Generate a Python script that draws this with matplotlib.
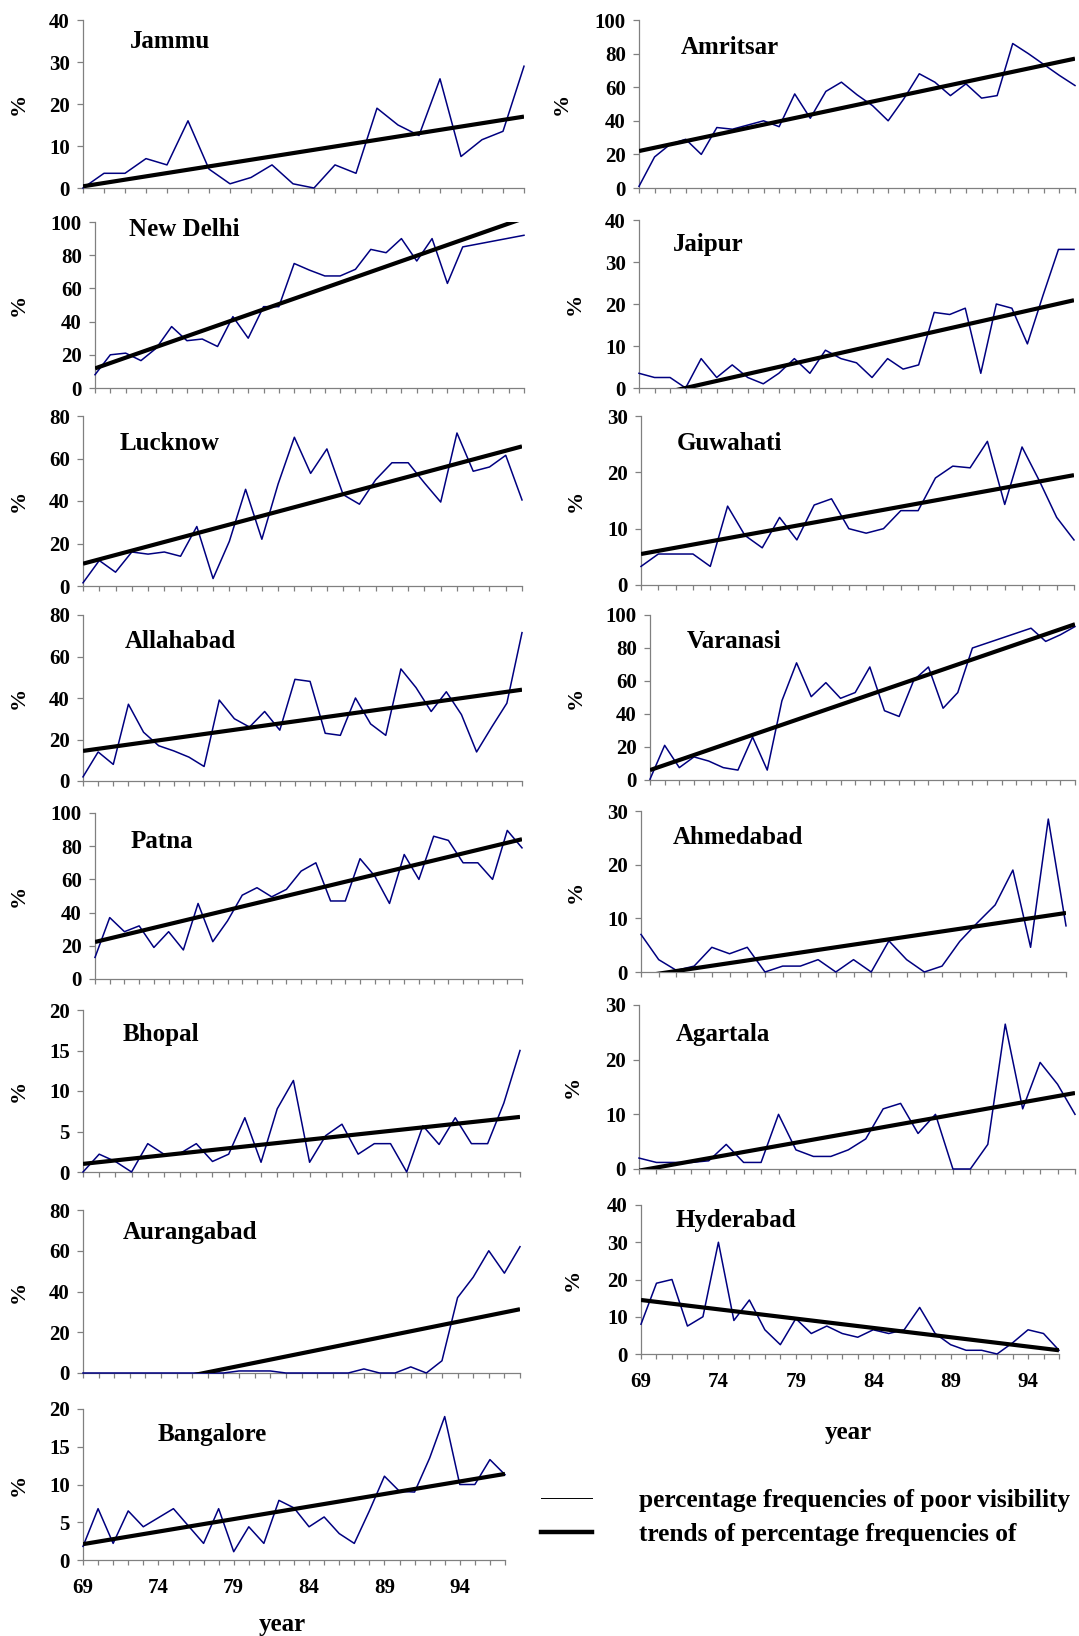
import numpy as np
import matplotlib
matplotlib.use('Agg')
import matplotlib.pyplot as plt
from matplotlib.lines import Line2D

plt.rcParams['font.family'] = ['Liberation Serif', 'DejaVu Serif']
plt.rcParams['font.weight'] = 'bold'

# ---- data (None = no value plotted) ----
jammu = [0, 3.5, 3.5, 7, 5.5, 16, 4.5, 1, 2.5, 5.5, 1, 0, 5.5, 3.5, 19, 15, 12.5, 26, 7.5, 11.5, 13.5, 29]
amritsar = [1, 18.5, 26, 29, 20, 36, 35, 37.5, 40, 36.5, 56, 41.5, 57.5, 63, 55.5, 49, 40, 53, 68, 63,
            55, 62, 53.5, 55, 86, 80, 73.5, 67, 61]
new_delhi = [8, 20, 21, 16.5, 24, 37, 28.5, 29.5, 25, 43, 30, 49, 49, 75, 71, 67.5, 67.5, 71.5, 83.5, 81.5,
             90, 76.5, 90, 63, 85, None, None, None, 92]
jaipur = [3.5, 2.5, 2.5, 0, 7, 2.5, 5.5, 2.5, 1, 3.5, 7, 3.5, 9, 7, 6, 2.5, 7, 4.5, 5.5, 18, 17.5, 19, 3.5,
          20, 19, 10.5, 22, 33, 33]
lucknow = [1.5, 12, 6.5, 16, 15, 16, 14, 28, 3.5, 21, 45.5, 22, 48, 70, 53, 64.5, 43, 38.5, 50, 58, 58,
           48.5, 39.5, 72, 54, 56, 61.5, 40.5]
guwahati = [3.3, 5.5, 5.5, 5.5, 3.3, 14, 8.8, 6.6, 12, 8, 14.2, 15.3, 10, 9.2, 10, 13.2, 13.2, 19, 21.1,
            20.8, 25.5, 14.3, 24.5, 18.5, 12, 8]
allahabad = [2, 14, 8, 37, 23.5, 17, 14.5, 11.5, 7, 39, 30, 26, 33.5, 24.5, 49, 48, 23, 22, 40, 27.5, 22,
             54, 45, 33.5, 43, 32, 14, 26, 37.5, 71.5]
varanasi = [0.5, 21, 7.5, 14, 11.5, 7.5, 6, 26, 6, 48, 71, 50.5, 59, 49.5, 53, 68.5, 42, 38.5, 60.5, 68.5,
            43.5, 53, 80, None, None, None, 92, 84, 88, 93]
patna = [13, 37, 28.5, 32, 19, 28.5, 17.5, 45.5, 22.5, 35, 50.5, 55, 49.5, 54, 65, 70, 47, 47, 72.5, 62,
         45.5, 75, 60, 86, 83.5, 70, 70, 60, 89.5, 79]
ahmedabad = [7, 2.3, 0.3, 1.1, 4.6, 3.4, 4.6, 0, 1.1, 1.1, 2.3, 0, 2.3, 0, 5.8, 2.3, 0, 1.1, 5.7, 9.2,
             12.5, 19, 4.6, 28.5, 8.6]
bhopal = [0, 2.2, 1.3, 0, 3.5, 2.2, 2.3, 3.5, 1.3, 2.2, 6.7, 1.2, 7.8, 11.3, 1.2, 4.5, 5.9, 2.2, 3.5, 3.5,
          0, 5.7, 3.4, 6.7, 3.5, 3.5, 8.5, 15]
agartala = [2, 1.2, 1.2, 1.2, 1.5, 4.5, 1.2, 1.2, 10, 3.5, 2.3, 2.3, 3.5, 5.5, 11, 12, 6.5, 10, 0, 0, 4.5,
            26.5, 11, 19.5, 15.5, 10]
aurangabad = [0, 0, 0, 0, 0, 0, 0, 0, 0, 0, 1, 1, 1, 0, 0, 0, 0, 0, 2, 0, 0, 3, 0, 6, 37, 47, 60, 49, 62]
hyderabad = [8, 19, 20, 7.5, 10, 30, 9, 14.5, 6.5, 2.5, 9.5, 5.5, 7.5, 5.5, 4.5, 6.5, 5.5, 6.5, 12.5, 5.5,
             2.5, 1, 1, 0, 3, 6.5, 5.5, 1]
bangalore = [1.8, 6.8, 2.2, 6.5, 4.4, 5.6, 6.8, 4.5, 2.2, 6.8, 1.1, 4.4, 2.2, 7.9, 6.9, 4.4, 5.7, 3.5, 2.2,
             6.5, 11.1, 9.1, 9, 13.5, 19, 10, 10, 13.3, 11.3]

# trend line values at first and last year of each series
trend_start = {'Jammu': 0.4, 'Amritsar': 22, 'New Delhi': 11.8, 'Jaipur': -2.5, 'Lucknow': 10.5,
               'Guwahati': 5.5, 'Allahabad': 14.5, 'Varanasi': 6, 'Patna': 22.3, 'Ahmedabad': -0.8,
               'Bhopal': 1.0, 'Agartala': -0.3, 'Aurangabad': -12, 'Hyderabad': 14.5, 'Bangalore': 2.1}
trend_end = {'Jammu': 17.0, 'Amritsar': 77, 'New Delhi': 102.3, 'Jaipur': 20.9, 'Lucknow': 65.7,
             'Guwahati': 19.5, 'Allahabad': 44, 'Varanasi': 94.4, 'Patna': 84.2, 'Ahmedabad': 11,
             'Bhopal': 6.8, 'Agartala': 13.9, 'Aurangabad': 31.3, 'Hyderabad': 1.0, 'Bangalore': 11.4}

year_labels = ['69', '74', '79', '84', '89', '94']

W, H = 1079, 1636

# panel: name, series, y max, y step, axes box in pixels (x0, x1, ytop, ybottom), title pos (x, y), ylabel x
panels = [
    ('Jammu', jammu, 40, 10, (83, 524, 20, 188), (130, 41), 19),
    ('New Delhi', new_delhi, 100, 20, (95, 524, 222, 388), (129, 229), 19),
    ('Lucknow', lucknow, 80, 20, (83, 522, 416, 586), (120, 443), 19),
    ('Allahabad', allahabad, 80, 20, (83, 522, 615, 781), (125, 642), 19),
    ('Patna', patna, 100, 20, (95, 522, 813, 979), (131, 841), 19),
    ('Bhopal', bhopal, 20, 5, (83, 520, 1010, 1172), (123, 1034), 19),
    ('Aurangabad', aurangabad, 80, 20, (83, 520, 1210, 1373), (123, 1233), 19),
    ('Bangalore', bangalore, 20, 5, (83, 505, 1409, 1560), (158, 1434), 19),
    ('Amritsar', amritsar, 100, 20, (639, 1075, 20, 188), (681, 48), 562),
    ('Jaipur', jaipur, 40, 10, (639, 1074, 220, 388), (673, 245), 575),
    ('Guwahati', guwahati, 30, 10, (641, 1074, 416, 585), (677, 443), 576),
    ('Varanasi', varanasi, 100, 20, (650, 1075, 615, 780), (687, 642), 576),
    ('Ahmedabad', ahmedabad, 30, 10, (641, 1066, 811, 972), (673, 837), 576),
    ('Agartala', agartala, 30, 10, (639, 1075, 1005, 1169), (676, 1034), 573),
    ('Hyderabad', hyderabad, 40, 10, (641, 1059, 1205, 1354), (676, 1220), 573),
]

fig = plt.figure(figsize=(W / 100, H / 100), dpi=100)

for name, vals, ymax, step, box, tpos, ylx in panels:
    x0, x1, yt, yb = box
    ax = fig.add_axes([x0 / W, 1 - yb / H, (x1 - x0) / W, (yb - yt) / H])
    n = len(vals)
    idx = np.array([i for i, v in enumerate(vals) if v is not None])
    yv = np.array([v for v in vals if v is not None], dtype=float)
    # data line
    ax.plot(idx, yv, color='#000080', lw=1.1, clip_on=False, zorder=3)
    # linear trend
    ax.plot([0, n - 1], [trend_start[name], trend_end[name]], color='black', lw=3.0,
            solid_capstyle='butt', zorder=4)
    ax.set_xlim(0, n - 1)
    ax.set_ylim(0, ymax)
    ax.set_yticks(np.arange(0, ymax + step / 2, step))
    ax.set_xticks(np.arange(n))
    if name in ('Bangalore', 'Hyderabad'):
        lab = [''] * n
        for k, t in enumerate(year_labels):
            lab[k * 5] = t
        ax.set_xticklabels(lab)
    else:
        ax.set_xticklabels([])
    for s in ('top', 'right'):
        ax.spines[s].set_visible(False)
    for s in ('left', 'bottom'):
        ax.spines[s].set_color('#808080')
        ax.spines[s].set_linewidth(0.9)
    ax.tick_params(axis='both', direction='out', color='#808080', width=0.9, labelsize=15)
    ax.tick_params(axis='y', length=4.5, pad=5)
    ax.tick_params(axis='x', length=3.8, pad=9)
    ax.patch.set_alpha(0)
    # station name and % label
    fig.text(tpos[0] / W, 1 - tpos[1] / H, name, fontsize=18, fontweight='bold',
             ha='left', va='center')
    fig.text(ylx / W, 1 - (yt + yb) / 2 / H, '%', fontsize=16, fontweight='bold',
             rotation=90, ha='center', va='center')

# year labels under the bottom panels
fig.text(282 / W, 1 - 1624 / H, 'year', fontsize=18, fontweight='bold', ha='center', va='center')
fig.text(848 / W, 1 - 1433 / H, 'year', fontsize=18, fontweight='bold', ha='center', va='center')

# legend
handles = [Line2D([], [], color='black', lw=0.7), Line2D([], [], color='black', lw=3.2)]
fig.legend(handles, ['percentage frequencies of poor visibility', 'trends of percentage frequencies of'],
           loc='upper left', bbox_to_anchor=(541 / W, 1 - 1489 / H), frameon=False,
           prop={'family': 'Liberation Serif', 'weight': 'bold', 'size': 18.3},
           handlelength=2.0, handletextpad=1.85, labelspacing=0.42, borderpad=0, borderaxespad=0)

plt.savefig('out.png', dpi=100)
